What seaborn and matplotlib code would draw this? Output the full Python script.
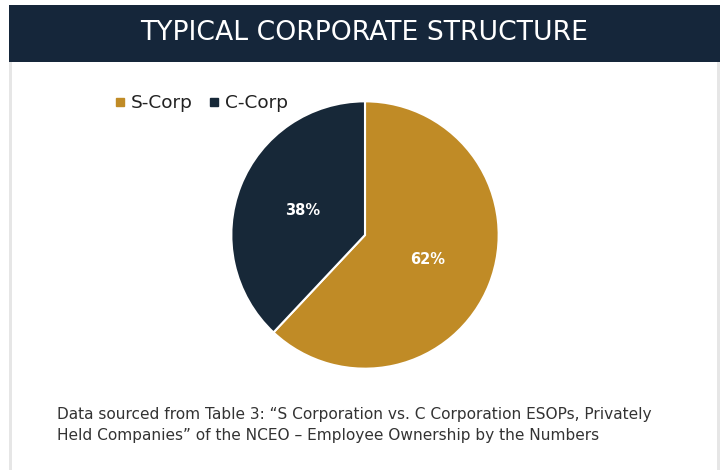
import matplotlib
matplotlib.use("Agg")
import matplotlib.pyplot as plt
from matplotlib.patches import Rectangle
from matplotlib.lines import Line2D
import seaborn as sns

categories = ["S-Corp", "C-Corp"]
values = [62, 38]
title = "TYPICAL CORPORATE STRUCTURE"
footnote = ("Data sourced from Table 3: \u201cS Corporation vs. C Corporation ESOPs, Privately\n"
            "Held Companies\u201d of the NCEO \u2013 Employee Ownership by the Numbers")

sns.set_theme(style="white")
plt.rcParams['font.family'] = ['DejaVu Sans']

colors = ["#C08B26", "#172838"]
header_color = "#15263A"

W, H = 723, 470
fig = plt.figure(figsize=(W / 100, H / 100), dpi=100)
fig.patch.set_facecolor("white")

def fx(px):
    return px / W

def fy(py):
    return 1 - py / H

# card border (light grey sides)
fig.patches.append(Rectangle((fx(9), 0), fx(711), fy(62),
                             transform=fig.transFigure, facecolor="#E6E6E6", edgecolor="none", zorder=0))
fig.patches.append(Rectangle((fx(12), 0), fx(705), fy(62),
                             transform=fig.transFigure, facecolor="white", edgecolor="none", zorder=0.5))
# header
fig.patches.append(Rectangle((fx(9), fy(62)), fx(711), fy(5) - fy(62),
                             transform=fig.transFigure, facecolor=header_color, edgecolor="none", zorder=1))
fig.text(fx(364), fy(33), title, color="white", fontsize=19.2, ha="center", va="center", zorder=2)

# pie
cx, cy, r = 365, 235, 135
ax = fig.add_axes([fx(cx - r), fy(cy + r), fx(2 * r), fy(cy - r) - fy(cy + r)])
ax.set_zorder(3)
ax.patch.set_alpha(0)
wedges, texts, autotexts = ax.pie(values, colors=colors, startangle=90, counterclock=False,
                                  autopct=lambda p: f"{p:.0f}%", pctdistance=0.5,
                                  wedgeprops=dict(edgecolor="white", linewidth=1.5),
                                  textprops=dict(color="white", fontsize=10.5, fontweight="bold"))
ax.set_xlim(-1.01, 1.01)
ax.set_ylim(-1.01, 1.01)
ax.set_aspect("equal")
ax.axis("off")

handles = [Line2D([0], [0], marker="s", linestyle="none", markersize=6,
                  markerfacecolor=c, markeredgecolor=c) for c in colors]
leg = fig.legend(handles, categories, loc="center left", bbox_to_anchor=(fx(98), fy(103)),
                 ncol=2, frameon=False, fontsize=13.3, handlelength=0.6, handletextpad=0.25,
                 columnspacing=0.9, labelcolor="#222222")
leg.set_zorder(4)

fig.text(fx(57), fy(425), footnote, color="#333333", fontsize=11.05, ha="left", va="center",
         linespacing=1.5, zorder=4)

fig.savefig("out.png", dpi=100, facecolor="white")
